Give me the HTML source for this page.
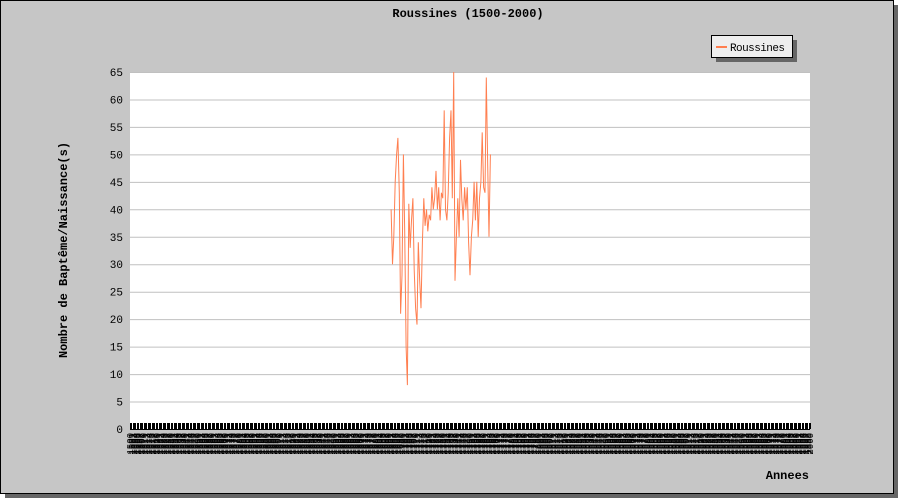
<!DOCTYPE html>
<html><head><meta charset="utf-8"><style>
body{margin:0;background:#fff;}
svg{display:block;font-family:"Liberation Mono",monospace;}
</style></head><body>
<svg id="chart" width="900" height="500" xmlns="http://www.w3.org/2000/svg">
<rect x="5" y="5" width="893" height="493" fill="#666"/>
<rect x="0.5" y="0.5" width="893" height="493" fill="#c6c6c6" stroke="#000"/>
<text x="468" y="17" text-anchor="middle" font-size="12" font-weight="bold">Roussines (1500-2000)</text>
<rect x="130" y="72" width="680" height="357" fill="#fff"/>
<g id="grid"></g><g id="ticks"></g><g id="xlabels"></g><g id="ylabels"></g>
<path id="series" fill="none" stroke="#ff7f50" stroke-width="1"/>
<rect x="716" y="40" width="81" height="22" fill="#666"/>
<rect x="711.5" y="35.5" width="81" height="22" fill="#eee" stroke="#000"/>
<line x1="716" y1="47" x2="727" y2="47" stroke="#ff7f50" stroke-width="2"/>
<text x="730" y="51" font-size="11" textLength="55">Roussines</text>
<text transform="translate(67,250) rotate(-90)" text-anchor="middle" font-size="12" font-weight="bold">Nombre de Baptême/Naissance(s)</text>
<text x="809" y="479" text-anchor="end" font-size="12" font-weight="bold">Annees</text>
</svg>
<script>
const startYear = 1692;
const values = [40,30,35,45,50,53,43,21,28,50,36,15,8,41,33,38,42,29,22,19,34,27,22,34,42,37,40,36,39,38,44,40,42,47,40,44,38,43,42,58,40,38,43,53,58,42,65,27,35,42,35,49,42,38,44,40,44,34,28,35,38,45,38,45,35,42,45,54,44,43,64,48,35,50];
const yTicks = [0,5,10,15,20,25,30,35,40,45,50,55,60,65];
const xMin = 1500, xMax = 2000;
const NS = "http://www.w3.org/2000/svg";
const X = y => 130 + (y - xMin) / (xMax - xMin) * 680;
const Y = v => 429 - v / 65 * 357;
const grid = document.getElementById('grid'), ylab = document.getElementById('ylabels');
yTicks.forEach(t => {
  const l = document.createElementNS(NS,'line');
  l.setAttribute('x1',130); l.setAttribute('x2',810);
  l.setAttribute('y1',Y(t)+0.5); l.setAttribute('y2',Y(t)+0.5);
  l.setAttribute('stroke', t===0 ? '#000' : '#c0c0c0');
  
  
  grid.appendChild(l);
  const tx = document.createElementNS(NS,'text');
  tx.setAttribute('x',123); tx.setAttribute('y',Y(t)+4);
  tx.setAttribute('text-anchor','end'); tx.setAttribute('font-size','11');
  tx.textContent = t;
  
  
  ylab.appendChild(tx);
});
const ticks = document.getElementById('ticks'), xl = document.getElementById('xlabels');
let d = '';
for (let yr = xMin; yr <= xMax; yr++) {
  const x = Math.round(X(yr)) + 0.5;
  d += `M${x} 423V429`;
  const tx = document.createElementNS(NS,'text');
  tx.setAttribute('transform',`translate(${X(yr)+3},433) rotate(-90)`);
  tx.setAttribute('text-anchor','end'); tx.setAttribute('font-size','9');
  tx.textContent = yr;
  
  
  xl.appendChild(tx);
}
const tp = document.createElementNS(NS,'path');
tp.setAttribute('d', d); tp.setAttribute('stroke','#000');


ticks.appendChild(tp);
document.getElementById('series').setAttribute('d',
  values.map((v,i) => (i?'L':'M') + X(startYear+i).toFixed(1) + ' ' + Y(v).toFixed(1)).join(''));
</script>
</body></html>
